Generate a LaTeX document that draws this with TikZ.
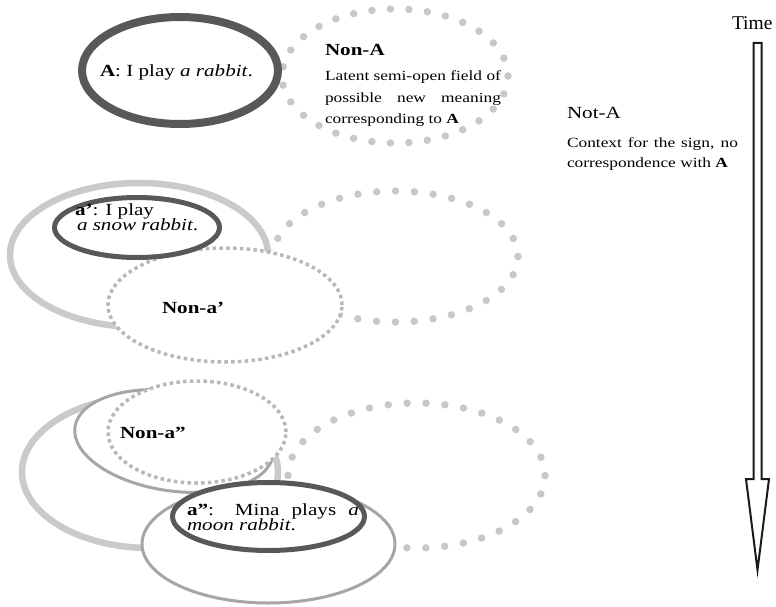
\documentclass[tikz,border=0pt]{standalone}
\usepackage{fontspec}
\setmainfont{Liberation Serif}
\newfontfamily\wfont{Liberation Serif}[FakeStretch=1.24,
  UprightFont=*, BoldFont=* Bold, ItalicFont=* Italic, BoldItalicFont=* Bold Italic]
\usetikzlibrary{shapes.geometric}
\definecolor{ringdark}{RGB}{88,88,90}
\definecolor{thickgray}{RGB}{202,202,203}
\definecolor{midgray}{RGB}{166,166,168}
\definecolor{bigdot}{RGB}{200,200,202}
\definecolor{sqdot}{RGB}{184,184,186}
\newcommand{\tightlines}{\lineskiplimit=-100pt\relax\lineskip=0pt\relax}
\begin{document}
\begin{tikzpicture}[x=1pt,y=-1pt,
  ring/.style={ellipse, inner sep=0pt, outer sep=0pt},
  darkring/.style={ring, draw=ringdark, fill=white},
  thickarc/.style={ring, draw=thickgray, line width=6.5pt},
  solidgray/.style={ring, draw=midgray, line width=3pt, fill=white},
  bigdots/.style={ring, draw=bigdot, line width=7.5pt, line cap=round},
  sqdots/.style={ring, draw=sqdot, line width=3.5pt, dash pattern=on 3.5pt off 3.3pt, fill=white},
  txt/.style={inner sep=0pt, outer sep=0pt, anchor=base west, text=black},
  big/.style={font=\wfont\fontsize{17}{15}\selectfont\tightlines},
  small/.style={font=\wfont\fontsize{14}{14}\selectfont}
]
\useasboundingbox (0,0) rectangle (776,607);

% ---------- top row ----------
\node[bigdots, dash pattern=on 0pt off 18.54pt, minimum width=226pt, minimum height=134pt] (nonAring) at (395,76) {};
\node[darkring, line width=8pt, minimum width=196pt, minimum height=107pt] (Aring) at (180,70.5) {};

% ---------- middle row ----------
\node[bigdots, dash pattern=on 0pt off 18.88pt, minimum width=245pt, minimum height=131pt] (midring) at (395.5,256.5) {};
\node[thickarc, minimum width=258pt, minimum height=144pt] (midarc) at (139,255) {};
\node[sqdots, minimum width=234pt, minimum height=114pt] (nonaring) at (225,305) {};
\node[darkring, line width=5pt, minimum width=165pt, minimum height=60pt] (aring) at (137,227.5) {};

% ---------- bottom row ----------
\node[bigdots, dash pattern=on 0pt off 18.93pt, minimum width=257pt, minimum height=145pt] (botring) at (416.5,475.5) {};
\node[thickarc, minimum width=256pt, minimum height=152pt] (botarc) at (150,472) {};
\node[solidgray, rotate=-8, minimum width=200pt, minimum height=100pt] (nonaasolid) at (174,441) {};
\node[sqdots, minimum width=178pt, minimum height=102pt] (nonaadots) at (197,432) {};
\node[solidgray, minimum width=253pt, minimum height=118pt] (aaouter) at (268.5,544) {};
\node[darkring, line width=5pt, minimum width=192pt, minimum height=68pt] (aaring) at (268.5,516.5) {};

% ---------- texts ----------
\node[txt, big] (tA) at (100,77) {\textbf{A}: I play \textit{a rabbit}.};
\node[txt, big] (tNonA) at (325,56) {\textbf{Non-A}};
\node[txt, small] (tL1) at (325,81) {Latent semi-open field of};
\node[txt, small] (tL2) at (325,103) {\makebox[176pt][s]{possible new meaning}};
\node[txt, small] (tL3) at (325,124) {corresponding to \textbf{A}};

\node[txt, font=\fontsize{19.5}{19.5}\selectfont] (tTime) at (732,30) {Time};
\node[txt, big] (tNotA) at (567,119) {Not-A};
\node[txt, small] (tC1) at (567,147) {\makebox[171pt][s]{Context for the sign, no}};
\node[txt, small] (tC2) at (567,167) {correspondence with \textbf{A}};

\node[txt, big, align=left] (ta) at (75,230) {\textbf{a’}: I play\\[0pt]\hspace*{2pt}\textit{a snow rabbit}.};
\node[txt, big] (tnona) at (162,313) {\textbf{Non-a’}};

\node[txt, big] (tnonaa) at (120,438) {\textbf{Non-a”}};
\node[txt, big, align=left] (taa) at (187,530) {\makebox[172pt][s]{\textbf{a”}: Mina plays \textit{a}}\\[0pt]\textit{moon rabbit}.};

% ---------- time arrow ----------
\draw[line width=2pt, line join=miter, draw=black!90]
  (753.5,43) -- (761.5,43) -- (761.5,479) -- (769,479) -- (757.5,570)
  -- (746,479) -- (753.5,479) -- cycle;
\end{tikzpicture}
\end{document}
